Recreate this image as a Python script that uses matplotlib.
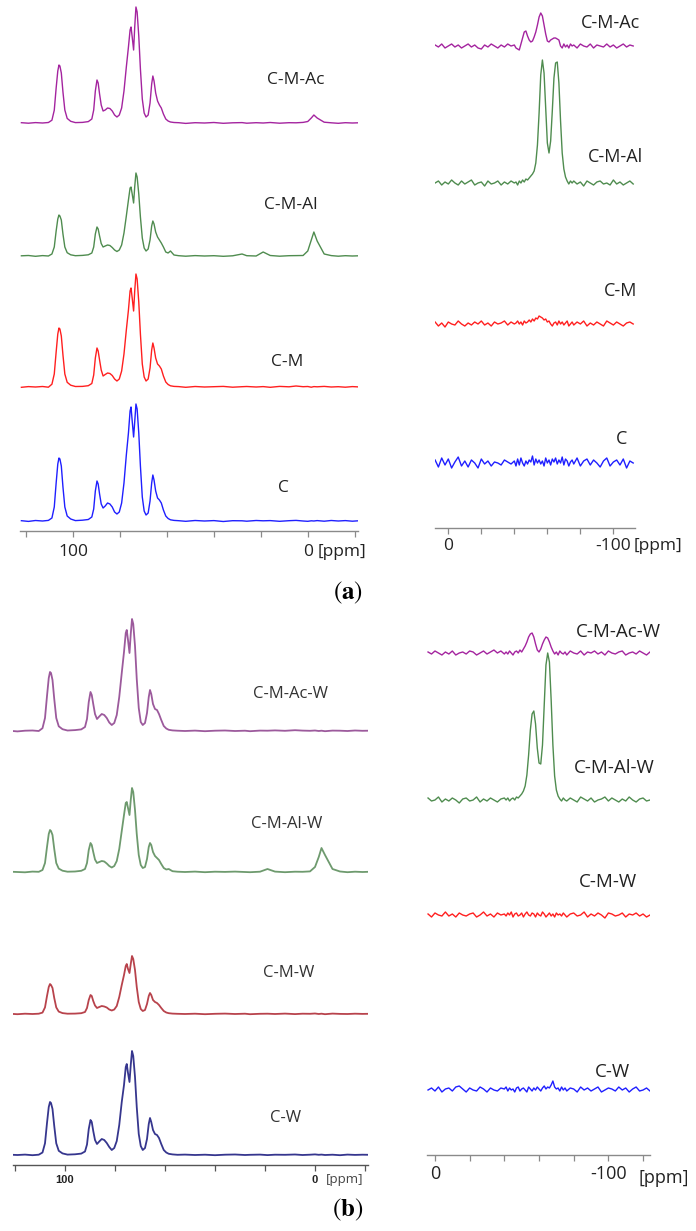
import numpy as np
import matplotlib.pyplot as plt

plt.rcParams['font.family'] = ['Open Sans', 'DejaVu Sans']
plt.rcParams['mathtext.fontset'] = 'stix'

W, H = 696, 1231

# ---------------- 13C spectra (left column), ppm sample points ----------------
LEFT_PPM = [122, 119, 116, 113, 110.5,
            109, 108, 107.2, 106.5, 106.0, 105.6, 105.0, 104.3, 103.5, 102.5, 101,
            99, 96, 93.5, 92,
            91.2, 90.5, 89.8, 89.3, 88.7, 88.0,
            87.2, 86.3, 85.3, 84.3, 83.3, 82.3, 81.3, 80.3,
            79.3, 78.3, 77.3, 76.4, 75.7, 75.3, 74.8, 74.2, 73.7, 73.2, 72.7, 72.0, 71.3, 70.5, 69.7, 68.9,
            68.0, 67.2, 66.5, 66.0, 65.5, 64.8, 64.0, 63.2, 62.4, 61.5, 60.5, 59.5, 58.5, 57,
            55, 52, 48, 44, 40, 36, 32, 28, 26, 22, 19, 16, 12, 8, 5, 2, 0, -1.5, -2.6, -4, -7, -10, -13, -16, -19, -21.5]

# panel (a)
A13_C_M_AC = [0.3, -0.2, 0.4, 0.0, 0.5,
              2.8, 12.8, 35, 52, 58, 57, 50, 31, 13, 4.6, 1.7,
              0.4, 0.6, 1.4, 4,
              13, 32, 43, 40, 29, 18,
              12, 13, 15, 14.5, 12, 8, 6, 8,
              15, 32, 56, 76, 93, 96, 86, 73, 97, 116, 111, 87, 54, 24, 10, 6,
              8, 20, 39, 47, 42, 30, 22, 18, 15, 9, 4, 2, 1, 0.5,
              0.3, -0.4, 0.3, 0.0, 0.5, -0.3, 0.2, 0.4, -0.2, 0.3, 0.0, 0.5, -0.2, 0.3, 0.2, 0.6,
              1.5, 5, 8, 5, 0.8, 0.2, -0.3, 0.3, 0.0, 0.2]
A13_C_M_AL = [0.2, 0.5, -0.3, 0.4, 0.0,
              2, 9, 25, 37, 41, 40, 36, 22, 9, 3.3, 1.2,
              0.3, 0.6, 1.2, 3,
              9, 22, 29, 27, 20, 12.5,
              9, 10, 11, 10.5, 8.5, 6, 4.5, 6,
              11, 23, 40, 56, 68, 69, 62, 53, 70, 83, 79, 62, 39, 18, 8, 5,
              7, 16, 30, 35, 32, 24, 19, 16, 13, 9, 4, 3, 5, 1,
              0.3, -0.2, 0.4, 0.0, 0.3, -0.3, 0.2, 2, 0.3, 0.0, 4, 0.5, -0.2, 0.3, 0.4, 0.5,
              5, 16, 24, 15, 2, 0.4, -0.2, 0.3, 0.0, 0.2]
A13_C_M = [-0.3, 0.4, 0.0, 0.5, -0.2,
           2.8, 13, 35, 53, 59, 58, 51, 32, 13, 4.7, 1.8,
           0.5, 0.6, 1.3, 3.5,
           12, 29, 39, 36, 27, 17,
           11, 12.5, 14, 13.5, 11.5, 8, 6, 8,
           16, 33, 57, 77, 96, 99, 89, 76, 97, 113, 108, 85, 53, 23, 10, 6,
           8, 19, 37, 44, 39, 29, 23, 21, 18, 11, 5, 2.5, 1.2, 0.6,
           0.4, -0.3, 0.5, 0.0, 0.3, 0.6, -0.2, 0.3, 0.5, 0.0, 0.4, -0.3, 0.6, 0.2, 1.0, 0.3,
           0.5, -0.2, 0.4, 0.2, 0.6, 0.0, 0.3, -0.2, 0.4, 0.1]
A13_C = [0.3, -0.4, 0.5, 0.0, 0.6,
         3, 14, 38, 57, 63, 62, 55, 34, 14, 5, 2,
         0.4, 0.8, 1.5, 4,
         12, 30, 40, 37, 27, 17,
         13, 15, 18, 17, 14, 9, 7, 9,
         18, 38, 66, 88, 110, 114, 100, 84, 100, 117, 112, 88, 55, 24, 10, 6,
         8, 20, 38, 46, 41, 30, 23, 21, 18, 11, 5, 2.5, 1.2, 0.6,
         0.3, -0.3, 0.5, 0.0, 0.4, -0.5, 0.3, 0.2, -0.2, 0.5, 0.2, 0.4, -0.3, 0.3, 0.6, 0.0,
         -0.3, 0.2, 0.0, 0.4, -0.2, 0.5, 0.0, 0.4, -0.2, 0.2]

# panel (b)
B13_C_M_AC_W = [0.2, -0.4, 0.3, 0.5, 0.0,
                2.8, 13, 35, 53, 59, 58, 51, 32, 13, 4.7, 1.8,
                0.5, 0.9, 1.6, 4,
                12, 29, 39, 36, 27, 17,
                12, 14.5, 17, 16, 13, 8.5, 6, 8,
                16, 34, 58, 79, 98, 101, 91, 78, 97, 112, 107, 85, 52, 23, 9, 6,
                8, 18, 34, 41, 37, 27, 22, 21, 17, 11, 5, 2.5, 1.2, 0.6,
                0.3, 0.0, 0.4, -0.2, 0.3, 0.5, 0.0, 0.3, -0.2, 0.4, 0.3, 0.6, 0.2, 0.8, 0.4, 0.2,
                0.5, 0.0, 0.3, -0.2, 0.4, 0.3, 0.0, 0.5, 0.2, 0.3]
B13_C_M_AL_W = [0.3, 0.0, -0.3, 0.4, 0.2,
                2, 9, 25, 38, 42, 41, 37, 23, 9, 3.4, 1.3,
                0.3, 0.5, 1.2, 3,
                9, 22, 29, 27, 20, 12.5,
                9, 10, 11, 10.5, 8.5, 6, 4.5, 6,
                11, 23, 41, 57, 69, 70, 64, 57, 72, 84, 80, 62, 38, 17, 7, 4,
                5, 13, 25, 29, 27, 20, 16, 14, 12, 8, 4, 2.5, 3, 0.8,
                0.3, 0.0, 0.4, -0.2, 0.3, 0.1, 0.4, 0.0, -0.2, 0.3, 3, 0.4, -0.2, 0.3, 0.2, 0.6,
                5, 15, 24, 17, 3, 0.5, -0.2, 0.3, 0.0, 0.2]
B13_C_M_W = [0.2, -0.2, 0.3, 0.0, 0.3,
             1.4, 6.6, 18, 27, 30, 29, 26, 16, 6.6, 2.4, 0.9,
             0.3, 0.4, 0.8, 2,
             6, 14, 19, 18, 13, 8.5,
             6, 7, 8, 7.5, 6.5, 4.5, 3.5, 4.5,
             8, 17, 29, 39, 48, 50, 45, 41, 50, 58, 55, 44, 27, 12, 5, 3,
             4, 10, 18, 21, 19, 14, 12, 11, 9, 6, 3, 1.5, 0.8, 0.4,
             0.2, 0.0, 0.3, -0.2, 0.2, 0.4, 0.0, 0.3, -0.2, 0.2, 0.3, 0.0, 0.4, -0.1, 0.3, 0.2,
             0.5, 0.0, 0.3, -0.2, 0.4, 0.1, 0.0, 0.3, 0.1, 0.2]
B13_C_W = [0.3, 0.0, 0.4, -0.2, 0.3,
           2.5, 11.7, 32, 48, 53, 52, 46, 29, 11.7, 4.2, 1.6,
           0.4, 0.7, 1.4, 3.5,
           10.5, 26, 35, 33, 24, 15,
           11, 13.5, 16, 15, 12, 8, 5, 7,
           14, 30, 53, 70, 88, 91, 82, 73, 90, 104, 99, 78, 48, 21, 9, 5,
           7, 16, 31, 37, 33, 25, 21, 20, 17, 11, 5, 2.5, 1.2, 0.6,
           0.2, 0.4, 0.0, 0.3, -0.2, 0.3, 0.5, 0.0, 0.2, 0.4, -0.1, 0.3, 0.2, 0.5, 0.0, 0.3,
           0.6, 0.2, 0.4, 0.0, 0.3, -0.2, 0.4, 0.1, 0.3, 0.2]

# ---------------- 29Si spectra (right column) ----------------
RA_PPM = [8, 6, 4, 2, 0, -2, -4, -6, -8, -10, -12, -14, -16, -18, -20, -22, -24, -26, -28, -30,
          -32, -34, -36, -38, -40,
          -41, -42, -43, -44, -45, -46, -47, -48, -49, -50, -51, -52, -53, -54, -55, -56, -57, -58,
          -59, -60, -61, -62, -63, -64, -65, -66, -67, -68, -69, -70, -71, -72, -73, -74, -75,
          -76, -78, -80, -82, -84, -86, -88, -90, -92, -94, -96, -98, -100, -102, -104, -106, -108,
          -110, -112]
RB_PPM = [4, 2, 0, -2, -4, -6, -8, -10, -12, -14, -16, -18, -20, -22, -24, -26, -28, -30,
          -32, -34, -36, -38, -40,
          -41, -42, -43, -44, -45, -46, -47, -48, -49, -50, -51, -52, -53, -54, -55, -56, -57, -58,
          -59, -60, -61, -62, -63, -64, -65, -66, -67, -68, -69, -70, -71, -72, -73, -74, -75,
          -76, -78, -80, -82, -84, -86, -88, -90, -92, -94, -96, -98, -100, -102, -104, -106, -108,
          -110, -112, -114, -116, -118, -120, -122, -124]

A29_C_M_AC = [1, -1, 2, -2, 0, 2, -1, 1, -2, 0, 2, -1, 1, -2, -3, 1, -1, 2, 0, -2, 1, -1, 2, 0, 1,
              -2, -3, -4, 2, 8, 14, 15, 10, 6, 4, 5, 9, 14, 21, 29, 33, 30, 21, 12, 5, 4, 6, 7, 8, 8,
              7, 6, 0, -2, 2, -1, 1, -2, 2, 0,
              1, -2, 2, 0, -1, 2, -2, 1, 0, -1, 2, -1, 1, -2, 0, 2, -1, 1, 0]
A29_C_M_AL = [0, 2, -2, 1, -1, 3, 0, -2, 2, -1, 1, 3, -2, 0, 1, -3, 2, -1, 0, 2, -2, 1, -1, 2, 0,
              1, -2, 2, 0, 3, 1, 4, 3, 5, 7, 9, 12, 20, 38, 70, 108, 123, 110, 75, 40, 30, 42, 72, 105,
              120, 121, 100, 62, 30, 14, 6, 2, -1, 2, 0,
              2, -1, 1, -3, 2, 0, -2, 1, 2, -1, 0, -2, 3, -1, 1, -2, 0, 2, -1]
A29_C_M = [2, -2, 1, -3, 2, 0, -1, 3, 0, -2, 1, -1, 2, 0, 3, -1, 1, -2, 2, 0, 1, 3, -1, 2, 0,
           1, 3, 0, 2, -1, 3, 1, 2, 4, 2, 5, 3, 6, 5, 8, 7, 6, 4, 5, 2, 3, 0, -2, 1, 2, -1, 3, 0, 2,
           -1, 1, 3, -2, 0, 2,
           -1, 2, 0, 3, -2, 1, -1, 2, 0, -2, 3, 1, -1, 2, 0, -2, 1, 2, 0]
A29_C = [3, -4, 5, -2, 4, -5, 1, 6, -3, 2, -4, 3, 0, -5, 4, -1, 2, -3, 1, 0, -2, 3, 1, -1, 2,
         -3, 4, -2, 5, 0, -3, 2, -1, 3, 1, 7, -2, 4, 0, 3, -1, 2, -3, 5, 0, 3, -2, 4, 1, 5, -1, 3,
         0, 6, -2, 4, 2, -3, 1, 3,
         -1, 5, -3, 2, 4, -2, 3, 0, -4, 2, 5, -3, 1, 3, -2, 4, -5, 2, 0]

B29_C_M_AC_W = [1, -1, 2, 0, -2, 1, -1, 2, -2, 0, 1, -1, 2, 1, -2, 0, 2, -1, 1, 3, 0, 2, -1,
                1, -1, 2, 0, -2, 1, 2, 0, 3, 1, 4, 7, 11, 16, 19, 20, 16, 9, 3, 1, 4, 9, 13, 16, 15,
                11, 6, 2, -1, 1, -2, 2, 0, -1, 1,
                -2, 2, 0, -1, 2, -2, 1, 0, 2, -1, 1, -2, 2, 0, -1, 1, 2, -2, 0, 1, -1, 2, 0, -2, 1]
B29_C_M_AL_W = [2, -1, 0, 3, -2, 1, -1, 2, 0, -3, 1, 2, -1, 0, 3, -2, 1, -1, 2, 0, -2, 1, 2,
                0, 2, -1, 1, 2, 0, 3, 2, 4, 6, 9, 14, 25, 45, 70, 86, 89, 76, 52, 37, 36, 55, 95, 135,
                147, 138, 100, 55, 24, 10, 4, 1, -1, 2, 0,
                -1, 2, 0, -2, 3, 1, -1, 2, -2, 0, 1, 3, -1, 2, 0, -2, 1, -1, 3, 0, -2, 1, 2, -1, 0]
B29_C_M_W = [1, -2, 2, 0, -1, 3, -1, 1, -2, 2, 0, -1, 1, 2, -2, 0, 3, -1, 1, -2, 2, 0, 1,
             -1, 2, 0, 3, -2, 1, 2, -1, 0, 2, -2, 1, 3, 0, -1, 2, 1, -2, 2, 0, -1, 3, 1, -2, 0, 2,
             -1, 1, -2, 2, 0, 1, -1, 2, 0,
             -2, 1, 2, -1, 0, 3, -2, 1, -1, 2, 0, -3, 2, 1, -1, 0, 2, -2, 1, 0, 2, -1, 1, -2, 0]
B29_C_W = [0, 2, -1, 3, -2, 1, 2, -1, 3, 4, 1, -2, 2, 0, -1, 3, 1, -2, 2, 0, -1, 2, 1,
           3, -1, 2, 0, 1, -2, 2, 3, -1, 1, 2, 0, -2, 3, 1, -1, 2, 0, 3, 1, -1, 2, 4, 1, 3, 2, 5,
           9, 3, 1, 2, -1, 3, 0, 2,
           -1, 2, 1, -2, 3, 0, 2, -1, 1, 3, -2, 0, 2, 1, -1, 3, 0, 2, -2, 1, 3, -1, 0, 2, -1]

LABELS_A = ['C-M-Ac', 'C-M-Al', 'C-M', 'C']
LABELS_B = ['C-M-Ac-W', 'C-M-Al-W', 'C-M-W', 'C-W']

COLORS_A = ['#a4249f', '#4f8c4f', '#ff1f1f', '#1f1fff']
COLORS_B_LEFT = ['#9c5a9c', '#6e9a6e', '#b8434c', '#36368e']
COLORS_B_RIGHT = ['#a4249f', '#4f8c4f', '#ff1f1f', '#1f1fff']


fig = plt.figure(figsize=(W / 100, H / 100), dpi=100)


def px_axes(x0, x1, ytop, ybot):
    ax = fig.add_axes([x0 / W, 1 - ybot / H, (x1 - x0) / W, (ybot - ytop) / H])
    ax.set_ylim(0, ybot - ytop)
    ax.patch.set_alpha(0)
    for s in ['top', 'left', 'right']:
        ax.spines[s].set_visible(False)
    ax.set_yticks([])
    return ax


def ftext(x, y, s, **kw):
    fig.text(x / W, 1 - y / H, s, ha=kw.pop('ha', 'center'), va=kw.pop('va', 'center'), **kw)


def panel(box, xlim, ppm, spectra, colors, offsets, lw, ticks, ticklabels,
          axcolor, fsize, pad, **tickfont):
    ax = px_axes(*box)
    for y, c, off in zip(spectra, colors, offsets):
        ax.plot(ppm, np.asarray(y, dtype=float) + off, color=c, lw=lw)
    ax.set_xlim(*xlim)
    ax.spines['bottom'].set_color(axcolor)
    ax.spines['bottom'].set_linewidth(1.0)
    ax.set_xticks(ticks)
    ax.set_xticklabels(ticklabels, fontsize=fsize, **tickfont)
    ax.tick_params(axis='x', direction='out', length=4, width=0.9, color=axcolor,
                   pad=pad, labelcolor='#222222')
    return ax


# (a) left: 13C
panel((20, 358, 0, 531), (122.6, -21.4), LEFT_PPM,
      [A13_C_M_AC, A13_C_M_AL, A13_C_M, A13_C], COLORS_A, [408, 275, 144, 10], 1.0,
      [120, 100, 80, 60, 40, 20, 0, -20], ['', '100', '', '', '', '', '0', ''],
      '#8a8a8a', 12.5, 5)
# (a) right: 29Si
panel((435, 635, 0, 528), (8.06, -113.1), RA_PPM,
      [A29_C_M_AC, A29_C_M_AL, A29_C_M, A29_C], COLORS_A, [482, 345, 204, 65], 1.0,
      [0, -20, -40, -60, -80, -100], ['0', '', '', '', '', '-100'],
      '#8a8a8a', 12.5, 3)
# (b) left: 13C
panel((13, 368, 600, 1165), (120.8, -21.2), LEFT_PPM,
      [B13_C_M_AC_W, B13_C_M_AL_W, B13_C_M_W, B13_C_W], COLORS_B_LEFT, [434, 293, 151, 10], 1.3,
      [120, 100, 80, 60, 40, 20, 0, -20], ['', '100', '', '', '', '', '0', ''],
      '#555555', 8, 3, fontweight='bold', family=['Liberation Sans', 'DejaVu Sans'])
# (b) right: 29Si
panel((427, 650, 600, 1155), (4.6, -124.0), RB_PPM,
      [B29_C_M_AC_W, B29_C_M_AL_W, B29_C_M_W, B29_C_W], COLORS_B_RIGHT, [502, 355, 240, 65], 1.0,
      [0, -20, -40, -60, -80, -100, -120], ['0', '', '', '', '', '-100', ''],
      '#8a8a8a', 13, 3)

# unit labels
ftext(318, 552, '[ppm]', ha='left', fontsize=12.5, color='#222222')
ftext(634, 546, '[ppm]', ha='left', fontsize=12.5, color='#222222')
ftext(326, 1180, '[ppm]', ha='left', fontsize=9.5, color='#444444')
ftext(638, 1178, '[ppm]', ha='left', fontsize=13, color='#222222')

# sample labels
for s, (x, y) in zip(LABELS_A, [(296, 80), (291, 205), (287, 362), (283, 488)]):
    ftext(x, y, s, fontsize=12.5, color='#222222')
for s, (x, y) in zip(LABELS_A, [(611, 23), (615, 157), (621, 291), (622, 439)]):
    ftext(x, y, s, fontsize=13, color='#222222')
for s, (x, y) in zip(LABELS_B, [(291, 694), (287, 824), (289, 973), (286, 1118)]):
    ftext(x, y, s, fontsize=12, color='#333333')
for s, (x, y) in zip(LABELS_B, [(618, 632), (614, 768), (608, 882), (613, 1072)]):
    ftext(x, y, s, fontsize=13.5, color='#222222')

# panel letters
ftext(348, 593, r'$(\mathbf{a})$', fontsize=18)
ftext(348, 1210, r'$(\mathbf{b})$', fontsize=18)

fig.savefig('out.png', dpi=100)
